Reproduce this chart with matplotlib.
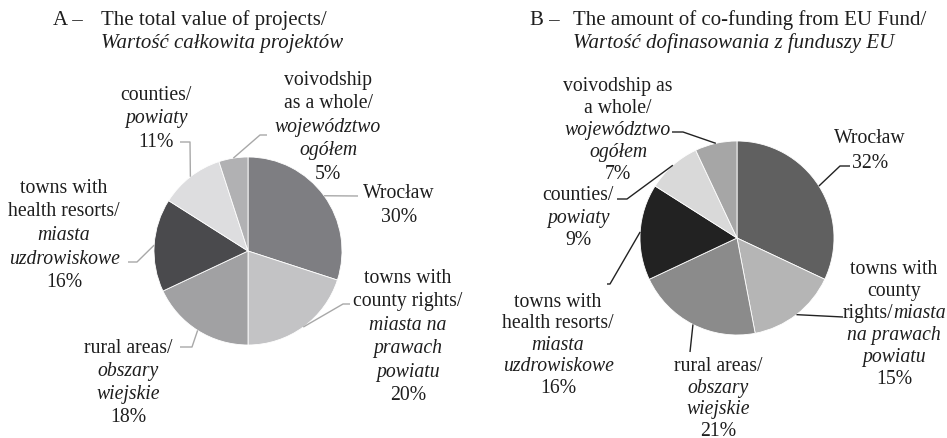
import numpy as np
import matplotlib.pyplot as plt

W, H = 947, 439

categories = ["Wrocław", "towns with county rights", "rural areas",
              "towns with health resorts", "counties", "voivodship as a whole"]
values_a = [30, 20, 18, 16, 11, 5]
values_b = [32, 15, 21, 16, 9, 7]
colors_a = ['#7e7e82', '#c3c3c5', '#a1a1a3', '#4a4a4d', '#dddddf', '#b1b1b3']
colors_b = ['#606060', '#b5b5b5', '#8b8b8b', '#222222', '#d9d9d9', '#a6a6a6']

N, I = "normal", "italic"
# label text lines (percent line appended from the values)
labels_a = [
    [[("Wrocław", N)]],
    [[("towns with", N)], [("county rights/", N)], [("miasta na", I)], [("prawach", I)], [("powiatu", I)]],
    [[("rural areas/", N)], [("obszary", I)], [("wiejskie", I)]],
    [[("towns with", N)], [("health resorts/", N)], [("miasta", I)], [("uzdrowiskowe", I)]],
    [[("counties/", N)], [("powiaty", I)]],
    [[("voivodship", N)], [("as a whole/", N)], [("województwo", I)], [("ogółem", I)]],
]
labels_b = [
    [[("Wrocław", N)]],
    [[("towns with", N)], [("county", N)], [("rights/", N), ("miasta", I)], [("na prawach", I)], [("powiatu", I)]],
    [[("rural areas/", N)], [("obszary", I)], [("wiejskie", I)]],
    [[("towns with", N)], [("health resorts/", N)], [("miasta", I)], [("uzdrowiskowe", I)]],
    [[("counties/", N)], [("powiaty", I)]],
    [[("voivodship as", N)], [("a whole/", N)], [("województwo", I)], [("ogółem", I)]],
]

title_a = ("A –", "The total value of projects/", "Wartość całkowita projektów")
title_b = ("B –", "The amount of co-funding from EU Fund/", "Wartość dofinasowania z funduszy EU")

# layout (pixel coords, y from top): center x, first line y, line spacing, leader points after pie edge
layout_a = [
    (399, 193, 24.0, [(358, 197)]),
    (408, 278, 23.4, [(343, 305), (350, 305)]),
    (128, 348, 23.0, [(192, 348), (180, 348)]),
    (64, 188, 23.5, [(137, 263), (128, 263)]),
    (156, 95, 23.5, [(190, 143), (180, 143)]),
    (328, 80, 23.5, [(260, 136), (267, 136)]),
]
layout_b = [
    (870, 138, 24.5, [(840, 167), (850, 167)]),
    (894, 269, 22.0, [(843, 318)]),
    (718, 366, 21.6, [(690, 353)]),
    (558, 302, 21.5, [(610, 285), (607, 285)]),
    (578, 195, 22.5, [(627, 200), (617, 200)]),
    (618, 86, 22.0, [(683, 133), (672, 133)]),
]
split_b = 893  # x where "rights/" meets "miasta"

FONT = "Liberation Serif"
FS = 14.2
TFS = 15.0
TXT = '#1e1e1e'

fig = plt.figure(figsize=(W / 100, H / 100), dpi=100)
ax = fig.add_axes([0, 0, 1, 1])


def put(x, y, s, style, ha, size=FS):
    ax.text(x, y, s, ha=ha, va='baseline', fontsize=size, family=FONT, style=style, color=TXT)


def draw_pie(values, colors, center, radius, labels, layout, lead_color, title, tx):
    cx, cy = center[0], H - center[1]
    wedges, _ = ax.pie(values, colors=colors, startangle=90, counterclock=False,
                       center=(cx, cy), radius=radius,
                       wedgeprops=dict(edgecolor='white', linewidth=0.6))
    for w, v, lab, (lx, ly, sp, pts) in zip(wedges, values, labels, layout):
        mid = np.deg2rad((w.theta1 + w.theta2) / 2)
        px, py = cx + radius * np.cos(mid), cy + radius * np.sin(mid)
        xs = [px] + [p[0] for p in pts]
        ys = [py] + [H - p[1] for p in pts]
        ax.plot(xs, ys, color=lead_color, lw=1.0, solid_capstyle='butt')
        lines = lab + [[(f"{v}%", N)]]
        for k, segs in enumerate(lines):
            yb = H - (ly + k * sp + 5)
            if len(segs) == 1:
                put(lx, yb, segs[0][0], segs[0][1], 'center')
            else:
                put(split_b, yb, segs[0][0], segs[0][1], 'right')
                put(split_b, yb, segs[1][0], segs[1][1], 'left')
    x0, x1 = tx
    put(x0, H - 25, title[0], N, 'left', TFS)
    put(x1, H - 25, title[1], N, 'left', TFS)
    put(x1, H - 48, title[2], I, 'left', TFS)


draw_pie(values_a, colors_a, (248, 252), 94, labels_a, layout_a, '#a8a8a8', title_a, (53, 101))
draw_pie(values_b, colors_b, (737, 239), 97, labels_b, layout_b, '#222222', title_b, (530, 573))

ax.set_xlim(0, W)
ax.set_ylim(0, H)
ax.set_aspect('equal')
ax.axis('off')

fig.savefig("out.png", dpi=100, facecolor='white')
